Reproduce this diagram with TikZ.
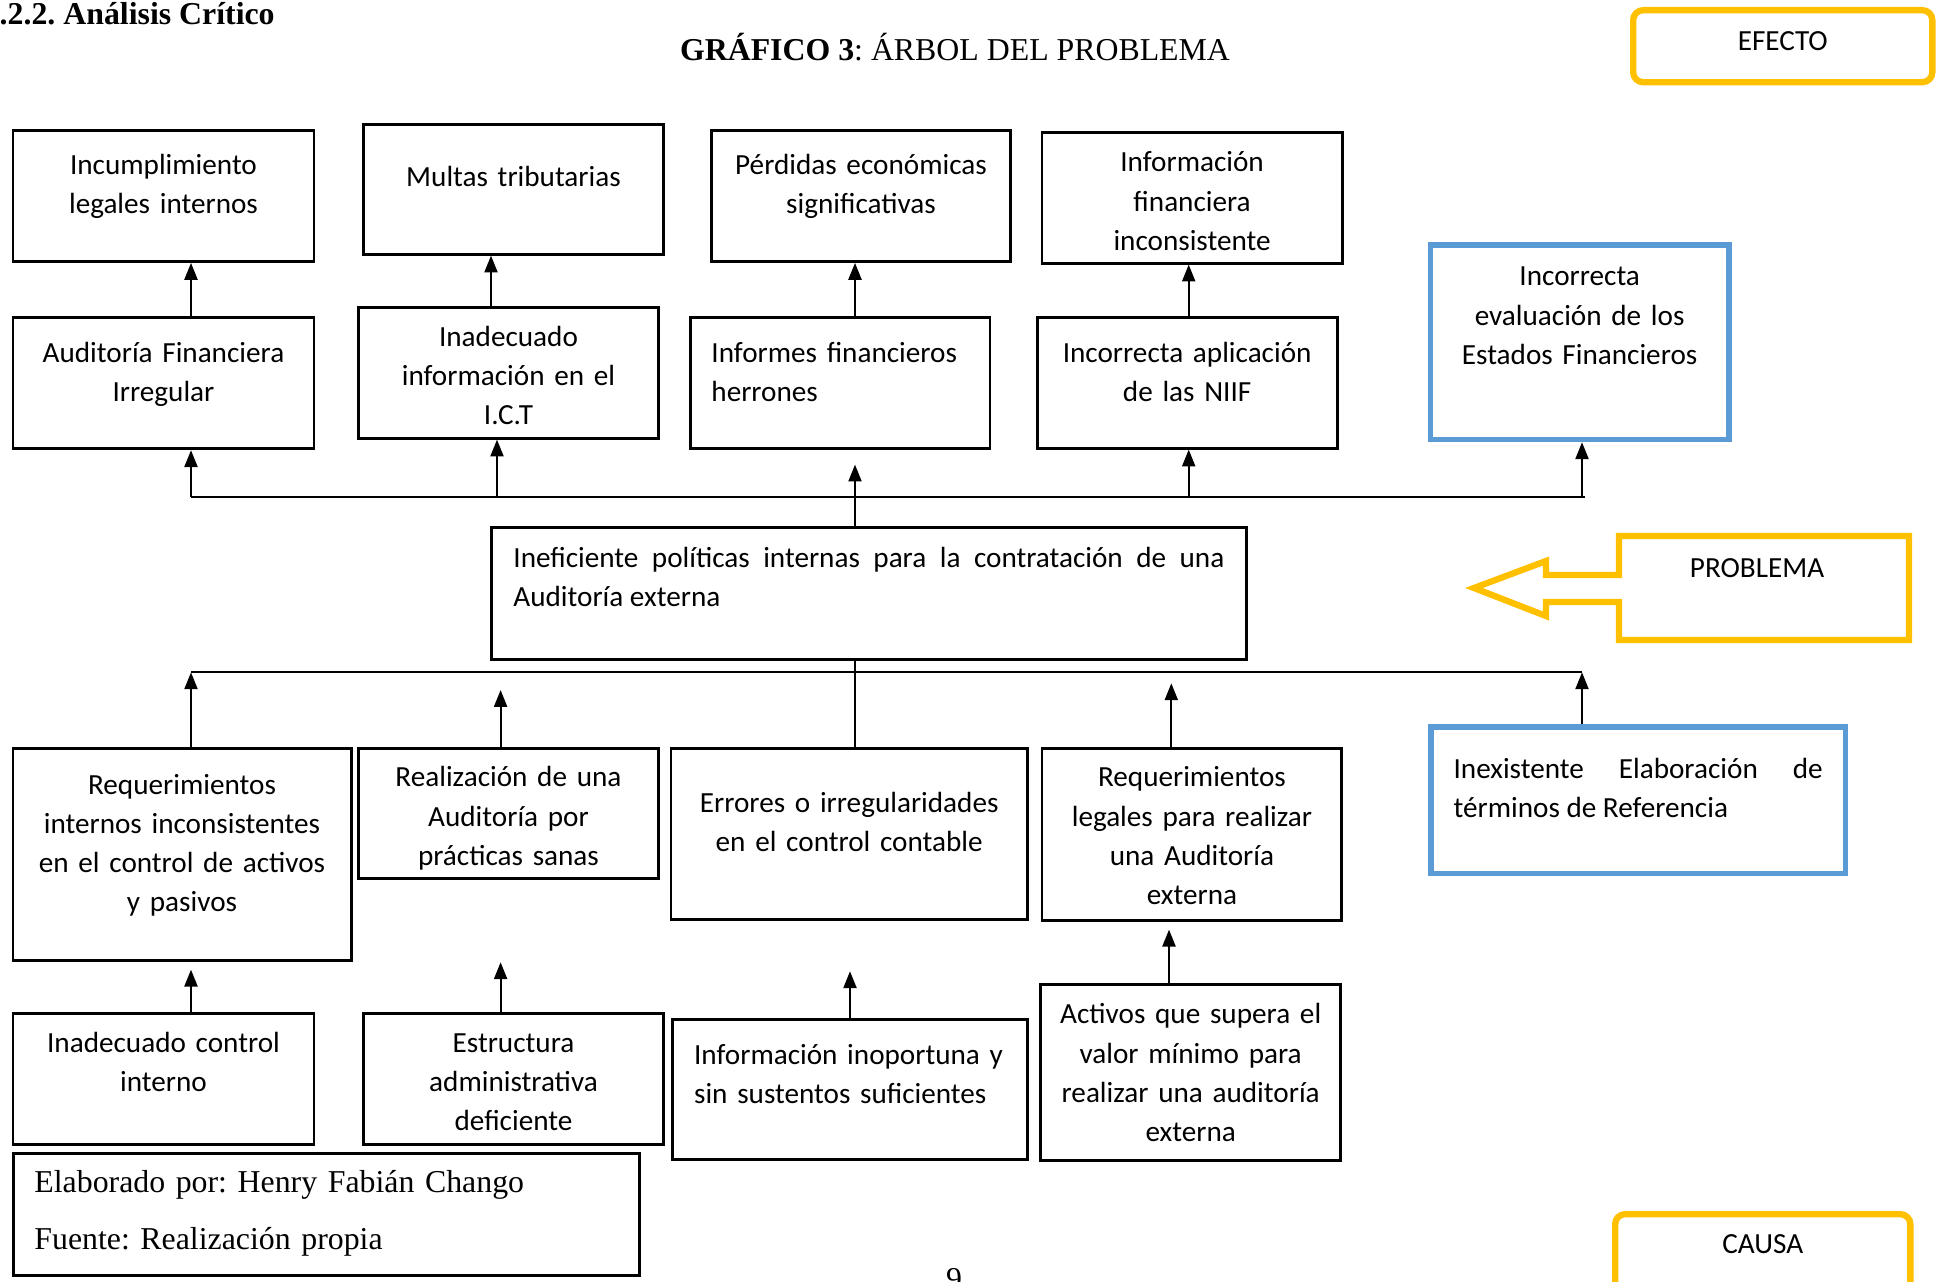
\documentclass[tikz,border=0pt]{standalone}
\usepackage{fontspec}
\setmainfont{Liberation Serif}
\newfontfamily\calibri{Carlito}
\usetikzlibrary{arrows.meta}
\definecolor{amarillo}{HTML}{FFC000}
\definecolor{azul}{HTML}{5B9BD5}
\frenchspacing
\begin{document}
\begin{tikzpicture}[x=0.01cm,y=-0.01cm]
    \pgfmathsetmacro{\ancho}{1936}
    \pgfmathsetmacro{\alto}{1282}
    \tikzset{caja/.style={draw, line width=0.8pt, inner sep=0pt, anchor=north west, align=center, font=\calibri\fontsize{8.3}{11.15}\selectfont},
        cajaazul/.style={caja, draw=azul, line width=1.6pt},
        rotulo/.style={draw=amarillo, line width=1.8pt, rounded corners=0.1cm, inner sep=0pt, anchor=north west, align=center, font=\calibri\fontsize{8.3}{11.15}\selectfont},
        flecha/.style={-{Triangle[length=4.8pt,width=3.7pt]}, line width=0.6pt},
        linea/.style={line width=0.5pt}}
    \useasboundingbox (0,0) rectangle (\ancho,\alto);
    \clip (0,0) rectangle (\ancho,\alto);
    \fill[white] (0,0) rectangle (\ancho,\alto);
    \node[anchor=base west, inner sep=0pt, font=\bfseries\fontsize{9.05}{11}\selectfont] (seccion) at (-1,25) {.2.2. Análisis Crítico};
    \node[anchor=base, inner sep=0pt, font=\fontsize{9.05}{11}\selectfont] (titulo) at (955,61) {\textbf{GRÁFICO 3}: ÁRBOL DEL PROBLEMA};
    \node[rotulo, text width=2.99cm, text height=0.405cm, text depth=0.315cm] (efecto) at (1630,7) {EFECTO};
    \node[caja, text width=3.01cm, text height=0.437cm, text depth=0.870cm] (incumplimiento) at (11.5,129.3) {Incumplimiento\\legales internos};
\node[caja, text width=3.00cm, text height=0.626cm, text depth=0.674cm] (multas) at (362,122.7) {Multas tributarias};
\node[caja, text width=2.99cm, text height=0.437cm, text depth=0.870cm] (perdidas) at (710,129.3) {Pérdidas económicas\\significativas};
\node[caja, text width=3.00cm, text height=0.398cm, text depth=0.912cm] (infofinanciera) at (1040.6,130.7) {Información\\financiera\\inconsistente};
\node[cajaazul, text width=2.985cm, text height=0.41cm, text depth=1.535cm] (evaluacion) at (1427.5,242) {Incorrecta\\evaluación de los\\Estados Financieros};
\node[caja, text width=3.01cm, text height=0.447cm, text depth=0.866cm] (auditoria) at (11.5,316) {Auditoría Financiera\\Irregular};
\node[caja, text width=3.00cm, text height=0.386cm, text depth=0.921cm] (inadecuadoict) at (357,306) {Inadecuado\\información en el\\I.C.T};
\node[caja, align=left, inner xsep=0.21cm, text width=2.575cm, text height=0.447cm, text depth=0.866cm] (informes) at (689,316) {Informes financieros\\herrones};
\node[caja, text width=2.997cm, text height=0.447cm, text depth=0.860cm] (niif) at (1035.8,316) {Incorrecta aplicación\\de las NIIF};
\node[caja, align=justify, inner xsep=0.22cm, text width=7.106cm, text height=0.396cm, text depth=0.921cm] (problema) at (490,526) {Ineficiente políticas internas para la contratación de una\linebreak Auditoría externa};
\node[caja, text width=3.38cm, text height=0.46cm, text depth=1.666cm] (reqinternos) at (11.5,746.7) {Requerimientos\\internos inconsistentes\\en el control de activos\\y pasivos};
\node[caja, text width=3.00cm, text height=0.387cm, text depth=0.919cm] (realizacion) at (357,746.7) {Realización de una\\Auditoría por\\prácticas sanas};
\node[caja, text width=3.561cm, text height=0.646cm, text depth=1.07cm] (errores) at (669.6,746.7) {Errores o irregularidades\\en el control contable};
\node[caja, text width=2.997cm, text height=0.387cm, text depth=1.333cm] (reqlegales) at (1040.6,746.7) {Requerimientos\\legales para realizar\\una Auditoría\\externa};
\node[cajaazul, align=justify, inner xsep=0.228cm, text width=3.689cm, text height=0.515cm, text depth=0.95cm] (terminos) at (1428,724) {Inexistente Elaboración de\linebreak términos de Referencia};
\node[caja, text width=3.01cm, text height=0.392cm, text depth=0.918cm] (controlint) at (11.5,1011.7) {Inadecuado control\\interno};
\node[caja, text width=3.00cm, text height=0.392cm, text depth=0.918cm] (estructura) at (362,1011.7) {Estructura\\administrativa\\deficiente};
\node[caja, align=left, inner xsep=0.217cm, text width=3.113cm, text height=0.449cm, text depth=0.951cm] (inoportuna) at (671,1018.3) {Información inoportuna y\\sin sustentos suficientes};
\node[caja, text width=2.996cm, text height=0.398cm, text depth=1.368cm] (activos) at (1039.4,982.7) {Activos que supera el\\valor mínimo para\\realizar una auditoría\\externa};
\node[caja, align=left, inner xsep=0.207cm, text width=5.843cm, text height=0.395cm, text depth=0.825cm, font=\fontsize{9.05}{16.07}\selectfont] (elaborado) at (12.3,1152) {Elaborado por: Henry Fabián Chango\\Fuente: Realización propia};
    \draw[draw=amarillo, line width=1.8pt] (1619,536) -- (1909,536) -- (1909,640) -- (1619,640) -- (1619,602) -- (1546,602) -- (1546,616) -- (1474,588) -- (1546,561) -- (1546,575) -- (1619,575) -- cycle;
    \node[inner sep=0pt, font=\calibri\fontsize{8.3}{11.15}\selectfont] (problemalbl) at (1757,568) {PROBLEMA};
    \node[rotulo, text width=2.95cm, text height=0.39cm, text depth=0.66cm] (causa) at (1612,1211) {CAUSA};
    \node[anchor=base, inner sep=0pt, font=\fontsize{9.05}{11}\selectfont] (pagina) at (954,1289.5) {9};
    \coordinate (k1) at (191,0);
    \coordinate (k2) at (491,0);
    \coordinate (k2b) at (497,0);
    \coordinate (k3) at (855,0);
    \coordinate (k4) at (1188.7,0);
    \coordinate (k5) at (1582,0);
    \coordinate (m2) at (500.6,0);
    \coordinate (m3) at (850,0);
    \coordinate (m4) at (1171.3,0);
    \coordinate (m4b) at (1169,0);
    \coordinate (sup-izq) at (191,496.7);
    \coordinate (sup-der) at (1585,496.7);
    \coordinate (inf-izq) at (191,672.3);
    \coordinate (inf-der) at (1582,672.3);
    \draw[linea] (sup-izq) -- (sup-der);
    \draw[linea] (inf-izq) -- (inf-der);
    \draw[flecha] (auditoria.north -| k1) -- (incumplimiento.south -| k1);
    \draw[flecha] (inadecuadoict.north -| k2) -- (multas.south -| k2);
    \draw[flecha] (informes.north -| k3) -- (perdidas.south -| k3);
    \draw[flecha] (niif.north -| k4) -- (infofinanciera.south -| k4);
    \draw[flecha] (sup-izq) -- (auditoria.south -| k1);
    \draw[flecha] (sup-izq -| k2b) -- (inadecuadoict.south -| k2b);
    \draw[flecha, shorten >=0.144cm] (problema.north -| k3) -- (informes.south -| k3);
    \draw[flecha] (sup-izq -| k4) -- (niif.south -| k4);
    \draw[flecha] (sup-izq -| k5) -- (evaluacion.south -| k5);
    \draw[flecha] (reqinternos.north -| k1) -- (inf-izq);
    \draw[flecha, shorten >=0.177cm] (realizacion.north -| m2) -- (inf-izq -| m2);
    \draw[line width=0.6pt] (errores.north -| k3) -- (problema.south -| k3);
    \draw[flecha, shorten >=0.11cm] (reqlegales.north -| m4) -- (inf-izq -| m4);
    \draw[flecha] (terminos.north -| k5) -- (inf-der);
    \draw[flecha, shorten >=0.074cm] (controlint.north -| k1) -- (reqinternos.south -| k1);
    \draw[flecha, shorten >=0.82cm] (estructura.north -| m2) -- (realizacion.south -| m2);
    \draw[flecha, shorten >=0.50cm] (inoportuna.north -| m3) -- (errores.south -| m3);
    \draw[flecha, shorten >=0.08cm] (activos.north -| m4b) -- (reqlegales.south -| m4b);
\end{tikzpicture}
\end{document}
